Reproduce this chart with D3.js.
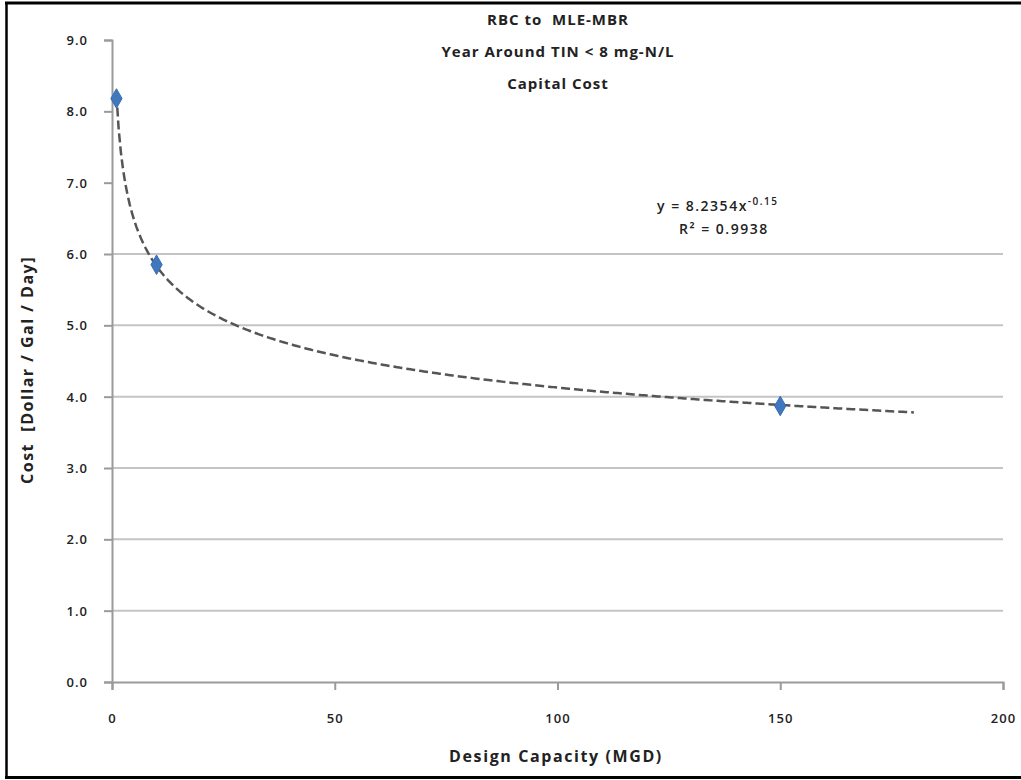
<!DOCTYPE html>
<html>
<head>
<meta charset="utf-8">
<script src="https://cdn.jsdelivr.net/npm/d3@7"></script>
<style>
  html, body { margin: 0; padding: 0; background: #fff; }
  svg { display: block; }
  text { font-family: "Open Sans", "Liberation Sans", sans-serif; fill: #222; white-space: pre; }
</style>
</head>
<body>
<svg id="chart" width="1021" height="780"></svg>
<script>
// ---- data ----
const capacityMGD = [1, 10, 150];
const costPerGalDay = [8.18, 5.85, 3.87];
const xTicks = [0, 50, 100, 150, 200];
const yTicks = [0, 1, 2, 3, 4, 5, 6, 7, 8, 9];
const gridValues = [1, 2, 3, 4, 5, 6];
const titleLines = ["RBC to  MLE-MBR", "Year Around TIN < 8 mg-N/L", "Capital Cost"];
const trendCoef = 8.2354;
const trendExp = -0.15;
const trendRange = [1, 180];
const rSquared = "0.9938";

const svg = d3.select("#chart");
const W = 1021, H = 780;
const m = { left: 112, right: 1003, top: 40, bottom: 682 };

const x = d3.scaleLinear().domain([0, 200]).range([m.left, m.right]);
const y = d3.scaleLinear().domain([0, 9]).range([m.bottom, m.top]);

// outer frame
svg.append("line").attr("x1", 5).attr("x2", W).attr("y1", 3).attr("y2", 3)
  .attr("stroke", "#000").attr("stroke-width", 3);
svg.append("line").attr("x1", 6.5).attr("x2", 6.5).attr("y1", 2).attr("y2", 778)
  .attr("stroke", "#000").attr("stroke-width", 2.5);
svg.append("line").attr("x1", 5).attr("x2", W).attr("y1", 777.5).attr("y2", 777.5)
  .attr("stroke", "#000").attr("stroke-width", 3);

// gridlines
svg.append("g").selectAll("line").data(gridValues).join("line")
  .attr("x1", m.left).attr("x2", m.right)
  .attr("y1", d => y(d)).attr("y2", d => y(d))
  .attr("stroke", "#c4c4c4").attr("stroke-width", 2);

// axes
const yAxis = d3.axisLeft(y).tickValues(yTicks).tickSize(8).tickPadding(16)
  .tickFormat(d3.format(".1f"));
const gy = svg.append("g").attr("transform", `translate(${m.left},0)`).call(yAxis);
const xAxis = d3.axisBottom(x).tickValues(xTicks).tickSize(8).tickPadding(24)
  .tickFormat(d3.format("d"));
const gx = svg.append("g").attr("transform", `translate(0,${m.bottom})`).call(xAxis);
[gx, gy].forEach(g => {
  g.select(".domain").attr("stroke", "#9a9a9a").attr("stroke-width", 2);
  g.selectAll(".tick line").attr("stroke", "#9a9a9a").attr("stroke-width", 2);
  g.selectAll(".tick text").attr("font-size", 13).attr("font-weight", 600)
    .attr("letter-spacing", 1)
    .style("font-family", "'Open Sans', sans-serif").attr("fill", "#333");
});
gy.selectAll(".tick text").attr("dy", "0.35em");

// trendline (power fit shown in the chart's own equation)
const trendX = d3.range(trendRange[0], trendRange[1] + 0.001, 0.5);
const trend = trendX.map(v => [v, trendCoef * Math.pow(v, trendExp)]);
svg.append("path").datum(trend)
  .attr("d", d3.line().x(d => x(d[0])).y(d => y(d[1])))
  .attr("fill", "none").attr("stroke", "#555").attr("stroke-width", 2.5)
  .attr("stroke-dasharray", "9,4");

// markers
const pts = capacityMGD.map((c, i) => [c, costPerGalDay[i]]);
svg.append("g").selectAll("path").data(pts).join("path")
  .attr("transform", d => `translate(${x(d[0])},${y(d[1])})`)
  .attr("d", d3.symbol(d3.symbolDiamond, 110))
  .attr("fill", "#3f78bf").attr("stroke", "#3a6fb0").attr("stroke-width", 1);

// title
const t = svg.append("text").attr("text-anchor", "middle")
  .attr("font-size", 15).attr("font-weight", 700).attr("letter-spacing", 1);
titleLines.forEach((s, i) => {
  t.append("tspan").attr("x", 558).attr("y", 25 + i * 32).text(s);
});

// equation
const eq = svg.append("text").attr("x", 657).attr("y", 211)
  .attr("font-size", 14).attr("font-weight", 600).attr("letter-spacing", 1.5);
eq.append("tspan").text("y = " + trendCoef + "x");
eq.append("tspan").attr("dy", -6).attr("font-size", 10).text(String(trendExp));
svg.append("text").attr("x", 679).attr("y", 234)
  .attr("font-size", 14).attr("font-weight", 600).attr("letter-spacing", 1.5)
  .text("R² = " + rSquared);

// axis titles
svg.append("text").attr("x", 556).attr("y", 762).attr("text-anchor", "middle")
  .attr("font-size", 16).attr("font-weight", 700).attr("letter-spacing", 1.6)
  .text("Design Capacity (MGD)");
svg.append("text").attr("transform", "translate(33,370) rotate(-90)")
  .attr("text-anchor", "middle").attr("font-size", 16).attr("font-weight", 700)
  .attr("letter-spacing", 1.5)
  .text("Cost  [Dollar / Gal / Day]");
</script>
</body>
</html>
